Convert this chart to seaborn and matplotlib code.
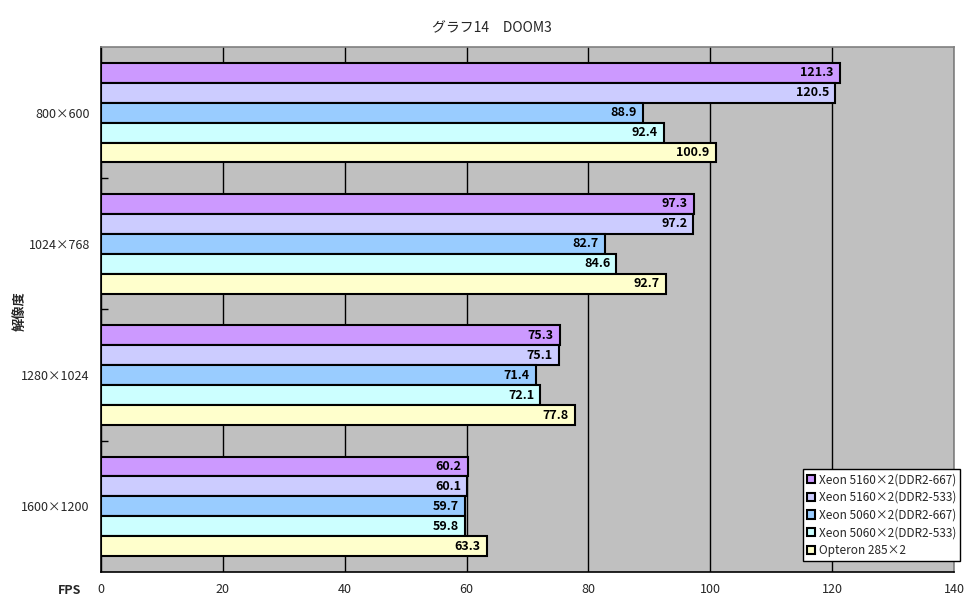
import numpy as np
import pandas as pd
import seaborn as sns
from matplotlib import pyplot as plt

resolutions = ['800×600', '1024×768', '1280×1024', '1600×1200']
series = ['Xeon 5160×2(DDR2-667)', 'Xeon 5160×2(DDR2-533)',
          'Xeon 5060×2(DDR2-667)', 'Xeon 5060×2(DDR2-533)', 'Opteron 285×2']
xeon5160_667 = [121.3, 97.3, 75.3, 60.2]
xeon5160_533 = [120.5, 97.2, 75.1, 60.1]
xeon5060_667 = [88.9, 82.7, 71.4, 59.7]
xeon5060_533 = [92.4, 84.6, 72.1, 59.8]
opteron285 = [100.9, 92.7, 77.8, 63.3]
colors = ['#CC99FF', '#CCCCFF', '#99CCFF', '#CCFFFF', '#FFFFCC']
xticks = [0, 20, 40, 60, 80, 100, 120, 140]

rows = []
for name, vals in zip(series, [xeon5160_667, xeon5160_533, xeon5060_667, xeon5060_533, opteron285]):
    for res, v in zip(resolutions, vals):
        rows.append({'res': res, 'series': name, 'fps': v})
df = pd.DataFrame(rows)

sns.set_style('white')
plt.rcParams['font.family'] = ['Noto Sans CJK JP', 'DejaVu Sans']

fig = plt.figure(figsize=(9.7, 6.04), dpi=100)
ax = fig.add_axes([101 / 970, 1 - 572 / 604, 853 / 970, 525 / 604])
ax.set_facecolor('#C0C0C0')
ax.set_axisbelow(True)

sns.barplot(data=df, y='res', x='fps', hue='series', orient='h', order=resolutions,
            hue_order=series, palette=colors, width=0.76, edgecolor='black',
            linewidth=1.5, saturation=1, ax=ax, legend=True)

# value labels inside the bar ends
for cont in ax.containers:
    for p in cont:
        w = p.get_width()
        ax.text(w - 1.0, p.get_y() + p.get_height() / 2, f'{w:.1f}', ha='right', va='center',
                fontsize=9, fontweight='bold', color='black')

ax.set_xlim(0, 140)
ax.set_ylim(3.5, -0.5)
ax.set_xticks(xticks)
ax.set_xticklabels([str(t) for t in xticks], fontsize=9)
ax.tick_params(axis='x', length=0, pad=8)
ax.tick_params(axis='y', which='major', length=0, labelsize=9, pad=8)
ax.set_yticks([0.5, 1.5, 2.5], minor=True)
ax.tick_params(axis='y', which='minor', left=True, direction='in', length=5, width=1, color='black')
ax.grid(axis='x', color='black', linewidth=1)
ax.set_xlabel('')
ax.set_ylabel('')
for s in ['left', 'bottom']:
    ax.spines[s].set_color('black')
    ax.spines[s].set_linewidth(1.2)
for s in ['top', 'right']:
    ax.spines[s].set_color('#808080')
    ax.spines[s].set_linewidth(1.2)

handles, labels = ax.get_legend_handles_labels()
ax.get_legend().remove()
leg = fig.legend(handles, labels, loc='lower right', bbox_to_anchor=(966 / 970, 1 - 567 / 604),
                 fontsize=8.5, handlelength=0.7, handleheight=0.7, handletextpad=0.3,
                 borderpad=0.35, labelspacing=0.4, fancybox=False, framealpha=1,
                 edgecolor='black')
leg.get_frame().set_linewidth(1)

fig.text(492 / 970, 1 - 28 / 604, 'グラフ14　DOOM3', ha='center', va='center', fontsize=10)
fig.text(20 / 970, 1 - 311 / 604, '解像度', rotation=90, ha='center', va='center',
         fontsize=9.5, fontweight='bold')
fig.text(70 / 970, 1 - 590 / 604, 'FPS', ha='center', va='center', fontsize=9, fontweight='bold')

fig.savefig('out.png', dpi=100, facecolor='white')
